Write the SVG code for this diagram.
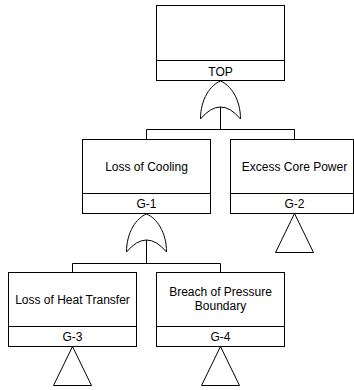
<svg xmlns="http://www.w3.org/2000/svg" width="354" height="390" viewBox="0 0 354 390">
<style>
.box{fill:#fff;stroke:#000;stroke-width:1}
.ln{fill:none;stroke:#000;stroke-width:1}
.t{font-family:"Liberation Sans",Arial,sans-serif;font-size:12px;fill:#000;text-anchor:middle}
</style>
<defs>
<path id="orgate" class="ln" d="M-20,38 C-20,18 -10,4 0,0 C10,4 20,18 20,38 Q0,14 -20,38 Z"/>
<path id="tri" class="ln" d="M0,0 L-19,39 L19,39 Z"/>
</defs>
<rect width="354" height="390" fill="#fff"/>
<g id="connectors">
<path class="ln" d="M220.5,107 V129.5 M146.5,139.5 V129.5 H294.5 V139.5"/>
<path class="ln" d="M146.5,240 V263.5 M72.5,272.5 V263.5 H220.5 V272.5"/>
</g>
<g id="gate-top"><use href="#orgate" x="220.5" y="81"/></g>
<g id="gate-g1"><use href="#orgate" x="146.5" y="214"/></g>
<g id="node-top">
<rect class="box" x="156.5" y="5.5" width="128" height="75"/>
<line class="ln" x1="156.5" y1="60.5" x2="284.5" y2="60.5"/>
<text class="t" x="220.5" y="76">TOP</text>
</g>
<g id="node-g1">
<rect class="box" x="82.5" y="139.5" width="128" height="74"/>
<line class="ln" x1="82.5" y1="193.5" x2="210.5" y2="193.5"/>
<text class="t" x="146.5" y="171">Loss of Cooling</text>
<text class="t" x="146.5" y="208">G-1</text>
</g>
<g id="node-g2">
<rect class="box" x="230.5" y="139.5" width="123" height="74"/>
<line class="ln" x1="230.5" y1="193.5" x2="353.5" y2="193.5"/>
<text class="t" x="294.5" y="171">Excess Core Power</text>
<text class="t" x="294.5" y="208">G-2</text>
<use href="#tri" x="294.5" y="213.5"/>
</g>
<g id="node-g3">
<rect class="box" x="8.5" y="272.5" width="128" height="74"/>
<line class="ln" x1="8.5" y1="326.5" x2="136.5" y2="326.5"/>
<text class="t" x="72.5" y="304">Loss of Heat Transfer</text>
<text class="t" x="72.5" y="341">G-3</text>
<use href="#tri" x="72.5" y="346.5"/>
</g>
<g id="node-g4">
<rect class="box" x="156.5" y="272.5" width="128" height="74"/>
<line class="ln" x1="156.5" y1="326.5" x2="284.5" y2="326.5"/>
<text class="t" x="220.5" y="296">Breach of Pressure</text>
<text class="t" x="220.5" y="310">Boundary</text>
<text class="t" x="220.5" y="341">G-4</text>
<use href="#tri" x="220.5" y="346.5"/>
</g>
</svg>
